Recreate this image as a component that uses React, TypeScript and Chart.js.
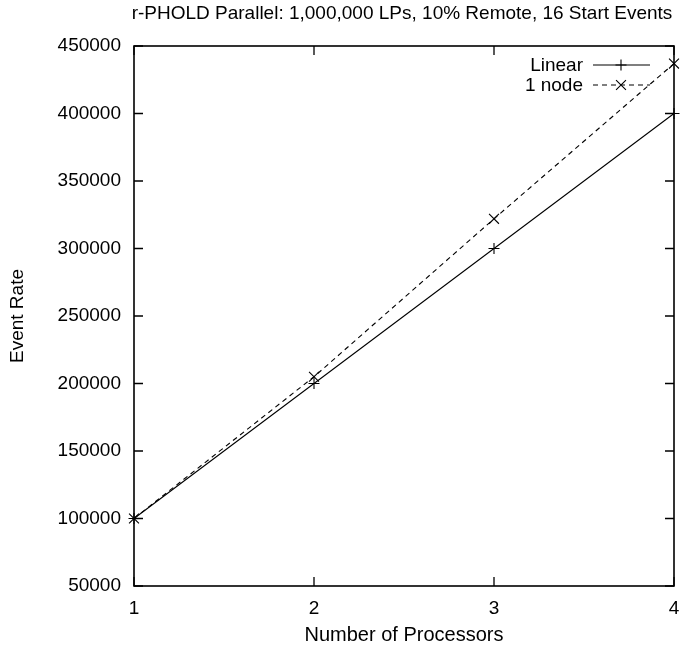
import React, { useEffect, useRef } from "react";
import { Chart, registerables } from "chart.js";

Chart.register(...registerables);

const TITLE = "r-PHOLD Parallel: 1,000,000 LPs, 10% Remote, 16 Start Events";
const X_TITLE = "Number of Processors";
const Y_TITLE = "Event Rate";
const processors = [1, 2, 3, 4];
const linearRate = [100000, 200000, 300000, 400000];
const oneNodeRate = [100000, 205000, 322000, 437000];
const seriesNames = ["Linear", "1 node"];
const yMin = 50000;
const yMax = 450000;
const yStep = 50000;
const xMin = 1;
const xMax = 4;

const FONT = "'Liberation Sans', Arial, Helvetica, sans-serif";
const FS = 19;

const framePlugin = {
  id: "gnuFrame",
  afterDraw(chart: any) {
    const { ctx, chartArea, scales } = chart;
    const { left, right, top, bottom } = chartArea;
    ctx.save();
    ctx.strokeStyle = "#000";
    ctx.lineWidth = 1.6;
    ctx.strokeRect(left, top, right - left, bottom - top);
    ctx.lineWidth = 1.3;
    const tl = 9;
    ctx.beginPath();
    for (let v = yMin; v <= yMax; v += yStep) {
      const y = scales.y.getPixelForValue(v);
      ctx.moveTo(left, y);
      ctx.lineTo(left + tl, y);
      ctx.moveTo(right, y);
      ctx.lineTo(right - tl, y);
    }
    for (let v = xMin; v <= xMax; v += 1) {
      const x = scales.x.getPixelForValue(v);
      ctx.moveTo(x, bottom);
      ctx.lineTo(x, bottom - tl);
      ctx.moveTo(x, top);
      ctx.lineTo(x, top + tl);
    }
    ctx.stroke();

    // title
    ctx.fillStyle = "#000";
    ctx.font = `${FS}px ${FONT}`;
    ctx.textAlign = "center";
    ctx.textBaseline = "middle";
    ctx.fillText(TITLE, (left + right) / 2 - 2, 14);

    // legend
    const ds = chart.data.datasets;
    ds.forEach((d: any, i: number) => {
      const y = top + 19 + i * 20;
      ctx.textAlign = "right";
      ctx.fillStyle = "#000";
      ctx.fillText(d.label, right - 91, y + 1);
      ctx.beginPath();
      ctx.lineWidth = 1.1;
      ctx.setLineDash(d.borderDash || []);
      ctx.moveTo(right - 81, y);
      ctx.lineTo(right - 24, y);
      ctx.stroke();
      ctx.setLineDash([]);
      const mx = right - 53;
      const r = d.pointRadius;
      ctx.beginPath();
      if (d.pointStyle === "cross") {
        ctx.moveTo(mx - r, y);
        ctx.lineTo(mx + r, y);
        ctx.moveTo(mx, y - r);
        ctx.lineTo(mx, y + r);
      } else {
        const o = Math.cos(Math.PI / 4) * r;
        ctx.moveTo(mx - o, y - o);
        ctx.lineTo(mx + o, y + o);
        ctx.moveTo(mx + o, y - o);
        ctx.lineTo(mx - o, y + o);
      }
      ctx.stroke();
    });
    ctx.restore();
  },
};

export default function App() {
  const ref = useRef<HTMLCanvasElement | null>(null);
  useEffect(() => {
    if (!ref.current) return;
    const chart = new Chart(ref.current, {
      type: "line",
      data: {
        datasets: [
          {
            label: seriesNames[0],
            data: processors.map((p, i) => ({ x: p, y: linearRate[i] })),
            borderColor: "#000",
            backgroundColor: "#000",
            borderWidth: 1.1,
            pointStyle: "cross",
            pointRadius: 5.5,
            pointBorderWidth: 1.1,
            pointBorderColor: "#000",
            fill: false,
            tension: 0,
          },
          {
            label: seriesNames[1],
            data: processors.map((p, i) => ({ x: p, y: oneNodeRate[i] })),
            borderColor: "#000",
            backgroundColor: "#000",
            borderWidth: 1.1,
            borderDash: [5, 4],
            pointStyle: "crossRot",
            pointRadius: 7,
            pointBorderWidth: 1.1,
            pointBorderColor: "#000",
            fill: false,
            tension: 0,
          },
        ],
      },
      options: {
        animation: false,
        responsive: false,
        maintainAspectRatio: false,
        clip: false as any,
        layout: { padding: { top: 46, right: 9, left: 0, bottom: 0 } },
        plugins: {
          legend: { display: false },
          title: { display: false },
          tooltip: { enabled: false },
        },
        scales: {
          x: {
            type: "linear",
            min: xMin,
            max: xMax,
            grid: { display: false, drawTicks: false },
            border: { display: false },
            ticks: {
              stepSize: 1,
              padding: 11,
              color: "#000",
              font: { family: FONT, size: FS },
            },
            title: {
              display: true,
              text: X_TITLE,
              color: "#000",
              font: { family: FONT, size: 20 },
              padding: { top: 0, bottom: 0 },
            },
            afterFit: (s: any) => {
              s.height = 61;
              s.paddingLeft = 0;
              s.paddingRight = 0;
            },
          },
          y: {
            type: "linear",
            min: yMin,
            max: yMax,
            grid: { display: false, drawTicks: false },
            border: { display: false },
            ticks: {
              stepSize: yStep,
              padding: 13,
              color: "#000",
              font: { family: FONT, size: FS },
              callback: (v: any) => String(v),
            },
            title: {
              display: true,
              text: Y_TITLE,
              color: "#000",
              font: { family: FONT, size: FS },
              padding: { top: 6, bottom: 0 },
            },
            afterFit: (s: any) => {
              s.width = 134;
              s.paddingTop = 0;
              s.paddingBottom = 0;
            },
          },
        },
      },
      plugins: [framePlugin],
    });
    return () => chart.destroy();
  }, []);
  return (
    <div style={{ position: "absolute", left: 0, top: 0, width: 683, height: 647 }}>
      <canvas ref={ref} width={683} height={647} style={{ display: "block" }} />
    </div>
  );
}
